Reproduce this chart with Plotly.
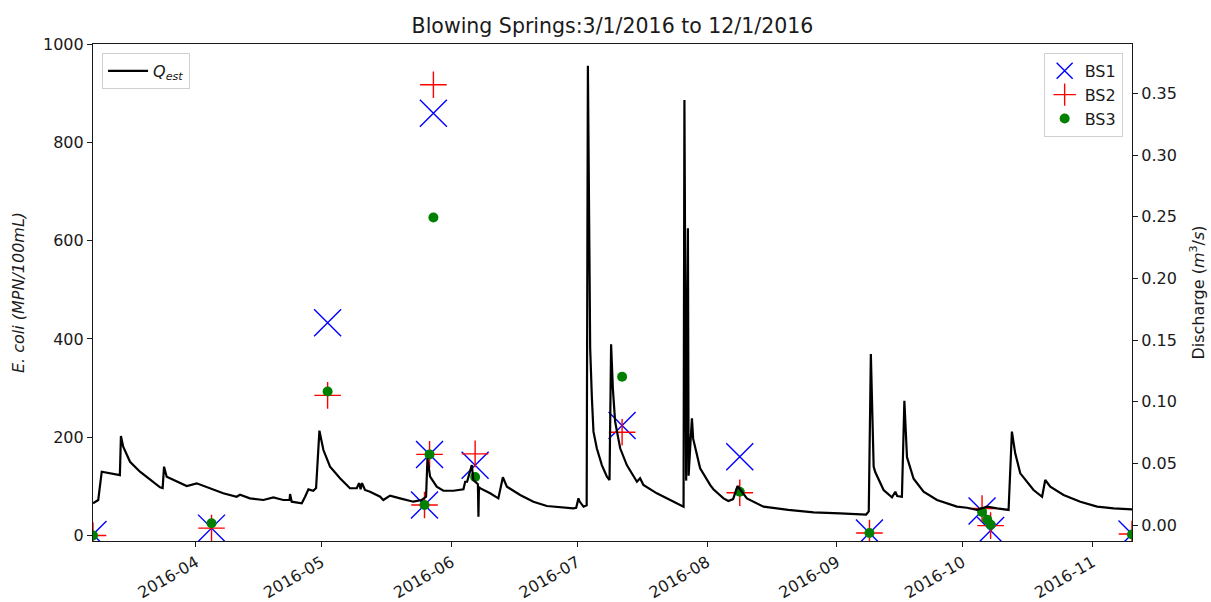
import plotly.graph_objects as go

# --- Estimated discharge (m^3/s), Blowing Springs ---
q_time = [
    "2016-03-07 10:00", "2016-03-08 16:00", "2016-03-09 12:00", "2016-03-13 11:00",
    "2016-03-13 20:00", "2016-03-14 02:00", "2016-03-14 15:00", "2016-03-16 06:00",
    "2016-03-18 15:00", "2016-03-21 00:00", "2016-03-23 10:00", "2016-03-24 01:00",
    "2016-03-24 09:00", "2016-03-25 00:00", "2016-03-27 09:00", "2016-03-29 19:00",
    "2016-04-01 04:00", "2016-04-03 13:00", "2016-04-07 12:00", "2016-04-10 17:00",
    "2016-04-11 12:00", "2016-04-13 21:00", "2016-04-17 02:00", "2016-04-19 11:00",
    "2016-04-21 20:00", "2016-04-23 08:00", "2016-04-23 11:00", "2016-04-23 20:00",
    "2016-04-26 06:00", "2016-04-27 01:00", "2016-04-27 20:00", "2016-04-29 00:00",
    "2016-04-29 16:00", "2016-04-30 11:00", "2016-05-01 10:00", "2016-05-03 00:00",
    "2016-05-05 09:00", "2016-05-07 18:00", "2016-05-09 09:00", "2016-05-09 22:00",
    "2016-05-10 07:00", "2016-05-10 15:00", "2016-05-11 08:00", "2016-05-12 13:00",
    "2016-05-14 23:00", "2016-05-15 17:00", "2016-05-17 08:00", "2016-05-19 17:00",
    "2016-05-22 21:00", "2016-05-24 21:00", "2016-05-25 22:00", "2016-05-26 06:00",
    "2016-05-26 21:00", "2016-05-28 11:00", "2016-05-30 01:00", "2016-06-01 11:00",
    "2016-06-03 20:00", "2016-06-04 06:00", "2016-06-04 17:00", "2016-06-05 20:00",
    "2016-06-06 05:00", "2016-06-07 07:00", "2016-06-07 10:00", "2016-06-07 13:00",
    "2016-06-07 19:00", "2016-06-10 05:00", "2016-06-12 04:00", "2016-06-13 06:00",
    "2016-06-14 05:00", "2016-06-17 09:00", "2016-06-20 13:00", "2016-06-23 18:00",
    "2016-06-26 22:00", "2016-06-30 02:00", "2016-06-30 18:00", "2016-07-01 07:00",
    "2016-07-01 14:00", "2016-07-02 12:00", "2016-07-03 06:00", "2016-07-03 13:00",
    "2016-07-03 23:00", "2016-07-04 02:00", "2016-07-04 12:00", "2016-07-04 21:00",
    "2016-07-05 16:00", "2016-07-06 21:00", "2016-07-08 02:00", "2016-07-08 17:00",
    "2016-07-09 02:00", "2016-07-09 12:00", "2016-07-10 01:00", "2016-07-11 06:00",
    "2016-07-12 20:00", "2016-07-15 06:00", "2016-07-16 00:00", "2016-07-16 19:00",
    "2016-07-20 00:00", "2016-07-23 04:00", "2016-07-26 09:00", "2016-07-26 14:00",
    "2016-07-27 00:00", "2016-07-27 10:00", "2016-07-27 14:00", "2016-07-28 02:00",
    "2016-07-28 09:00", "2016-07-28 16:00", "2016-07-29 04:00", "2016-07-30 08:00",
    "2016-08-01 18:00", "2016-08-02 12:00", "2016-08-04 22:00", "2016-08-06 02:00",
    "2016-08-07 05:00", "2016-08-08 06:00", "2016-08-10 12:00", "2016-08-14 11:00",
    "2016-08-20 09:00", "2016-08-26 10:00", "2016-09-01 18:00", "2016-09-07 23:00",
    "2016-09-08 14:00", "2016-09-09 02:00", "2016-09-09 18:00", "2016-09-10 03:00",
    "2016-09-12 03:00", "2016-09-14 03:00", "2016-09-14 22:00", "2016-09-15 09:00",
    "2016-09-16 12:00", "2016-09-17 02:00", "2016-09-17 17:00", "2016-09-19 07:00",
    "2016-09-21 16:00", "2016-09-24 21:00", "2016-09-29 15:00", "2016-10-02 01:00",
    "2016-10-04 10:00", "2016-10-06 19:00", "2016-10-09 05:00", "2016-10-11 23:00",
    "2016-10-12 18:00", "2016-10-13 13:00", "2016-10-14 18:00", "2016-10-17 22:00",
    "2016-10-19 23:00", "2016-10-20 17:00", "2016-10-21 22:00", "2016-10-25 02:00",
    "2016-10-29 02:00", "2016-11-02 02:00", "2016-11-06 01:00", "2016-11-10 10:00",
]
q_est = [
    0.0176, 0.0203, 0.0432, 0.0405,
    0.0405, 0.0722, 0.0635, 0.0513,
    0.0432, 0.0370, 0.0306, 0.0300,
    0.0473, 0.0392, 0.0357, 0.0316,
    0.0338, 0.0306, 0.0257, 0.0229,
    0.0245, 0.0216, 0.0203, 0.0224,
    0.0203, 0.0203, 0.0251, 0.0189,
    0.0176, 0.0229, 0.0289, 0.0278,
    0.0300, 0.0765, 0.0608, 0.0473,
    0.0379, 0.0298, 0.0298, 0.0340,
    0.0290, 0.0340, 0.0284, 0.0270,
    0.0229, 0.0203, 0.0238, 0.0216,
    0.0189, 0.0203, 0.0229, 0.0541,
    0.0392, 0.0311, 0.0278, 0.0278,
    0.0289, 0.0351, 0.0351, 0.0486,
    0.0365, 0.0330, 0.0067, 0.0310,
    0.0298, 0.0257, 0.0216, 0.0387,
    0.0311, 0.0243, 0.0189, 0.0154,
    0.0143, 0.0135, 0.0140, 0.0216,
    0.0190, 0.0149, 0.0160, 0.3724,
    0.2000, 0.1435, 0.1027, 0.0757,
    0.0622, 0.0486, 0.0392, 0.0365,
    0.1465, 0.1108, 0.0838, 0.0622,
    0.0486, 0.0351, 0.0379, 0.0324,
    0.0257, 0.0203, 0.0149, 0.3446,
    0.0360, 0.2406, 0.0400, 0.0700,
    0.0865, 0.0700, 0.0622, 0.0460,
    0.0324, 0.0290, 0.0216, 0.0195,
    0.0210, 0.0316, 0.0216, 0.0149,
    0.0122, 0.0103, 0.0095, 0.0085,
    0.0110, 0.1386, 0.0473, 0.0430,
    0.0284, 0.0225, 0.0270, 0.0235,
    0.0229, 0.1008, 0.0550, 0.0375,
    0.0270, 0.0203, 0.0149, 0.0140,
    0.0122, 0.0149, 0.0135, 0.0122,
    0.0757, 0.0581, 0.0419, 0.0284,
    0.0229, 0.0365, 0.0310, 0.0243,
    0.0189, 0.0149, 0.0135, 0.0127,
]

# --- E. coli samples (MPN/100mL) at the three sites ---
sample_time = [
    "2016-03-07 10:00", "2016-04-04 17:00", "2016-05-02 10:00", "2016-05-25 13:00",
    "2016-05-26 18:00", "2016-05-27 16:00", "2016-06-06 15:00", "2016-07-11 17:00",
    "2016-08-08 19:00", "2016-09-08 18:00", "2016-10-05 15:00", "2016-10-06 21:00",
    "2016-10-07 16:00", "2016-11-10 10:00",
]
bs1 = [2, 15, 433, 62, 165, 859, 143, 224, 160, 5, 50, None, 10, 3]
bs2 = [0, 15, 285, 62, 165, 917, 166, 210, 87, 5, 55, None, 20, 3]
bs3 = [0, 25, 293, 62, 165, 647, 119, 323, 89, 5, 48, 32, 22, 2]

x_range = ["2016-03-07 10:00", "2016-11-10 10:00"]
ecoli_ticks = [0, 200, 400, 600, 800, 1000]
q_ticks = [0.00, 0.05, 0.10, 0.15, 0.20, 0.25, 0.30, 0.35]

FONT = "DejaVu Sans"
INK = "#1a1a1a"

fig = go.Figure()

fig.add_trace(go.Scatter(
    x=q_time, y=q_est, yaxis="y2", mode="lines",
    line=dict(color="black", width=2.2),
    name="<i>Q<sub>est</sub></i>", legend="legend", showlegend=True,
))

fig.add_trace(go.Scatter(
    x=sample_time, y=bs1, mode="markers", name="BS1", legend="legend2",
    marker=dict(symbol="x-thin", size=27, color="blue",
                line=dict(color="blue", width=1.4)),
))
fig.add_trace(go.Scatter(
    x=sample_time, y=bs2, mode="markers", name="BS2", legend="legend2",
    marker=dict(symbol="cross-thin", size=19, color="red",
                line=dict(color="red", width=1.4)),
))
fig.add_trace(go.Scatter(
    x=sample_time, y=bs3, mode="markers", name="BS3", legend="legend2",
    marker=dict(symbol="circle", size=10, color="green",
                line=dict(width=0)),
))

axis_common = dict(
    showgrid=False, zeroline=False, ticks="outside", ticklen=5,
    tickwidth=1, tickcolor=INK, linecolor=INK, linewidth=1.2,
    tickfont=dict(family=FONT, size=16, color=INK), automargin=False,
)

legend_common = dict(
    bgcolor="rgba(255,255,255,0.8)", bordercolor="#d0d0d0", borderwidth=1,
    font=dict(family=FONT, size=16, color=INK), visible=True,
)

fig.update_layout(
    width=1211, height=602,
    showlegend=True,
    margin=dict(l=93, r=79, t=44, b=61, autoexpand=False),
    paper_bgcolor="white", plot_bgcolor="white",
    font=dict(family=FONT, size=16, color=INK),
    title=dict(
        text="Blowing Springs:3/1/2016 to 12/1/2016",
        x=0.5, xref="paper", xanchor="center",
        y=1 - 26 / 602, yref="container", yanchor="middle",
        font=dict(family=FONT, size=20.5, color=INK),
    ),
    xaxis=dict(
        type="date", range=x_range, tickformat="%Y-%m",
        dtick="M1", tick0="2016-04-01", tickangle=-30,
        showline=True, mirror=True, **axis_common,
    ),
    yaxis=dict(
        range=[-11.2, 1000], tickvals=ecoli_ticks,
        showline=True,
        title=dict(text="<i>E. coli (MPN/100mL)</i>", standoff=14,
                   font=dict(family=FONT, size=16, color=INK)),
        **axis_common,
    ),
    yaxis2=dict(
        overlaying="y", side="right", range=[-0.01297, 0.3901],
        tickvals=q_ticks, tickformat=".2f", showline=True,
        title=dict(text="Discharge (<i>m</i><sup>3</sup>/<i>s</i>)", standoff=16,
                   font=dict(family=FONT, size=16, color=INK)),
        **axis_common,
    ),
    legend=dict(x=0.0087, y=0.982, xanchor="left", yanchor="top",
                itemwidth=40, **legend_common),
    legend2=dict(x=0.991, y=0.982, xanchor="right", yanchor="top",
                 **legend_common),
)

fig.write_html("out.html")
